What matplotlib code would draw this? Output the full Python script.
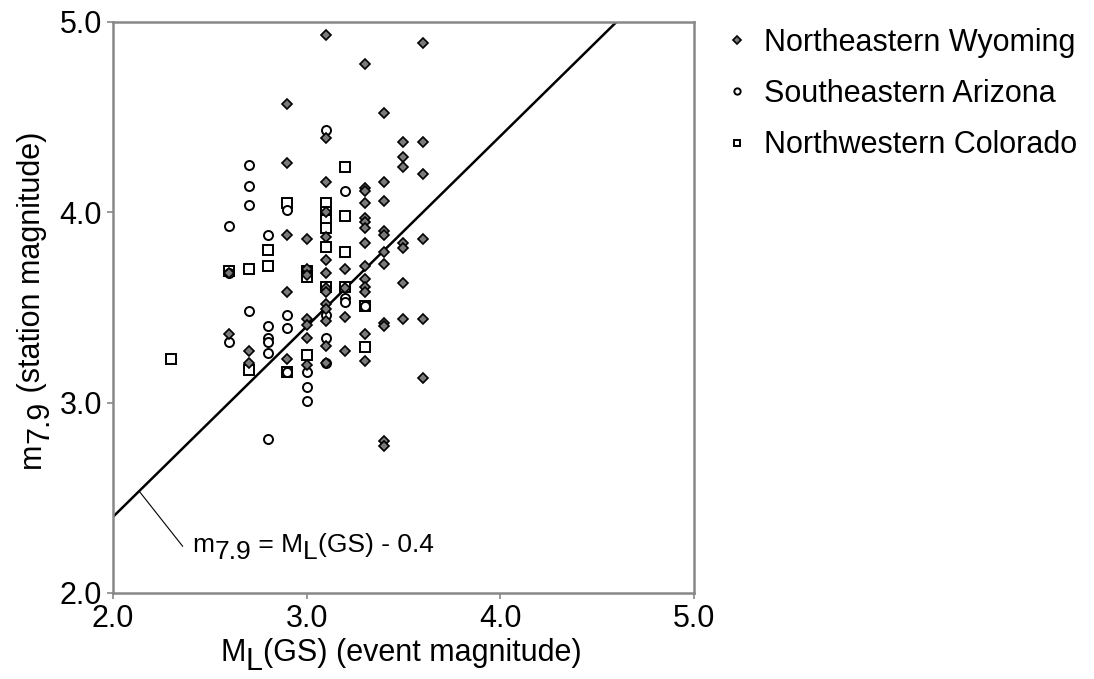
import matplotlib.pyplot as plt
from matplotlib.transforms import IdentityTransform

plt.rcParams['font.family'] = ['Liberation Sans', 'DejaVu Sans']

# Northeastern Wyoming (ромбы)
wy_x = [2.6, 2.6,
        2.7, 2.7,
        2.9, 2.9, 2.9, 2.9, 2.9,
        3.0, 3.0, 3.0, 3.0, 3.0, 3.0, 3.0,
        3.1, 3.1, 3.1, 3.1, 3.1, 3.1, 3.1, 3.1, 3.1, 3.1, 3.1, 3.1, 3.1, 3.1,
        3.2, 3.2, 3.2, 3.2,
        3.3, 3.3, 3.3, 3.3, 3.3, 3.3, 3.3, 3.3, 3.3, 3.3, 3.3, 3.3, 3.3, 3.3,
        3.4, 3.4, 3.4, 3.4, 3.4, 3.4, 3.4, 3.4, 3.4, 3.4, 3.4,
        3.5, 3.5, 3.5, 3.5, 3.5, 3.5, 3.5,
        3.6, 3.6, 3.6, 3.6, 3.6, 3.6]
wy_y = [3.68, 3.36,
        3.27, 3.21,
        4.57, 4.26, 3.88, 3.58, 3.23,
        3.86, 3.70, 3.67, 3.44, 3.41, 3.34, 3.20,
        4.93, 4.39, 4.16, 4.00, 3.87, 3.75, 3.68, 3.60, 3.58, 3.52, 3.49, 3.43, 3.30, 3.21,
        3.70, 3.60, 3.45, 3.27,
        4.78, 4.13, 4.11, 4.05, 3.97, 3.95, 3.92, 3.84, 3.72, 3.65, 3.61, 3.58, 3.36, 3.22,
        4.52, 4.16, 4.06, 3.90, 3.88, 3.79, 3.73, 3.42, 3.40, 2.80, 2.77,
        4.37, 4.29, 4.24, 3.84, 3.81, 3.63, 3.44,
        4.89, 4.37, 4.20, 3.86, 3.44, 3.13]

# Southeastern Arizona (кружки)
az_x = [2.6, 2.6, 2.6,
        2.7, 2.7, 2.7, 2.7,
        2.8, 2.8, 2.8, 2.8, 2.8, 2.8,
        2.9, 2.9, 2.9, 2.9,
        3.0, 3.0, 3.0,
        3.1, 3.1, 3.1, 3.1,
        3.2, 3.2, 3.2,
        3.3]
az_y = [3.93, 3.68, 3.32,
        4.25, 4.14, 4.04, 3.48,
        3.88, 3.40, 3.34, 3.32, 3.26, 2.81,
        4.01, 3.46, 3.39, 3.16,
        3.16, 3.08, 3.01,
        4.43, 3.46, 3.34, 3.21,
        4.11, 3.55, 3.53,
        3.51]

# Northwestern Colorado (квадраты)
co_x = [2.3, 2.6, 2.7, 2.7, 2.8, 2.8, 2.9, 2.9,
        3.0, 3.0, 3.0,
        3.1, 3.1, 3.1, 3.1, 3.1, 3.1,
        3.2, 3.2, 3.2, 3.2,
        3.3, 3.3]
co_y = [3.23, 3.69, 3.70, 3.17, 3.80, 3.72, 4.05, 3.16,
        3.69, 3.66, 3.25,
        4.05, 4.00, 3.96, 3.92, 3.82, 3.61,
        4.24, 3.98, 3.79, 3.61,
        3.51, 3.29]

# линия m7.9 = ML(GS) - 0.4 (на графике проходит через 2.4 при 2.0)
line_x = [2.0, 4.6]
line_offset = 0.4

fig = plt.figure(figsize=(10.94, 6.79), dpi=100)
ax = fig.add_axes([0.1033, 0.1267, 0.531, 0.841])
renderer = fig.canvas.get_renderer()


# текст с подстрочными индексами обычного размера (как в оригинале)
def rich_text(x0, y0, parts, size, rotation=0, ha='left'):
    widths = []
    for s, sub in parts:
        t = fig.text(0, 0, s, fontsize=size)
        widths.append(t.get_window_extent(renderer).width)
        t.remove()
    pos = -sum(widths) / 2 if ha == 'center' else 0
    drop = 0.28 * size * fig.dpi / 72
    for (s, sub), w in zip(parts, widths):
        d = drop if sub else 0
        if rotation == 90:
            x, y = x0 + d, y0 + pos
        else:
            x, y = x0 + pos, y0 - d
        fig.text(x, y, s, fontsize=size, rotation=rotation, transform=IdentityTransform(),
                 ha='left', va='baseline', rotation_mode='anchor')
        pos += w


ax.plot(co_x, co_y, linestyle='none', marker='s', markersize=7,
        markerfacecolor='white', markeredgecolor='black', markeredgewidth=1.4,
        label='Northwestern Colorado', zorder=3)
ax.plot(az_x, az_y, linestyle='none', marker='o', markersize=6.5,
        markerfacecolor='white', markeredgecolor='black', markeredgewidth=1.4,
        label='Southeastern Arizona', zorder=4)
ax.plot(wy_x, wy_y, linestyle='none', marker='D', markersize=5.5,
        markerfacecolor='#7a7a7a', markeredgecolor='black', markeredgewidth=1.2,
        label='Northeastern Wyoming', zorder=5)

ax.plot(line_x, [v + line_offset for v in line_x], color='black', lw=1.8, zorder=2)

ax.set_xlim(2.0, 5.0)
ax.set_ylim(2.0, 5.0)
ax.set_xticks([2.0, 3.0, 4.0, 5.0])
ax.set_yticks([2.0, 3.0, 4.0, 5.0])
ax.set_xticklabels(['2.0', '3.0', '4.0', '5.0'])
ax.set_yticklabels(['2.0', '3.0', '4.0', '5.0'])
ax.tick_params(labelsize=22, color='#888888', length=4, width=1.2, pad=4)
for sp in ax.spines.values():
    sp.set_color('#888888')
    sp.set_linewidth(1.8)

# выноска к линии
ax.annotate('', xy=(2.135, 2.535), xytext=(2.36, 2.245),
            arrowprops=dict(arrowstyle='-', lw=0.8, color='black', shrinkA=0, shrinkB=0))
tx, ty = ax.transData.transform((2.41, 2.215))
rich_text(tx, ty, [('m', False), ('7.9', True), (' = M', False), ('L', True),
                   ('(GS) - 0.4', False)], 19)

# подписи осей
rich_text(401, 18, [('M', False), ('L', True), ('(GS) (event magnitude)', False)],
          22, ha='center')
rich_text(40, 379, [('m', False), ('7.9', True), (' (station magnitude)', False)],
          22, rotation=90, ha='center')

handles, labels = ax.get_legend_handles_labels()
order = [2, 1, 0]
fig.legend([handles[i] for i in order], [labels[i] for i in order],
           loc='upper left', bbox_to_anchor=(0.64, 1.0), frameon=False,
           fontsize=22, markerscale=0.7, handlelength=0.6, handletextpad=0.6,
           labelspacing=0.7)

plt.savefig('out.png', dpi=100)
